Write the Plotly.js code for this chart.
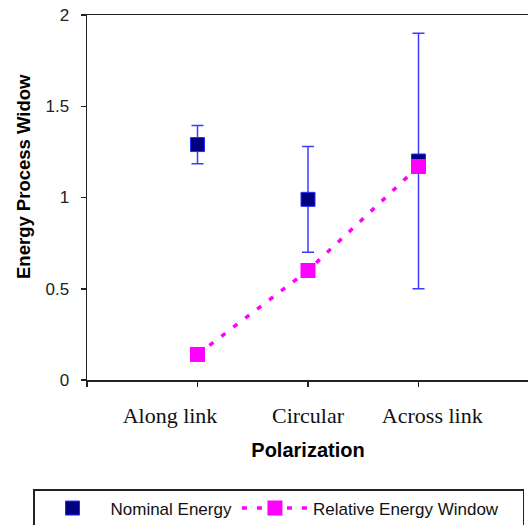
<!DOCTYPE html>
<html>
<head>
<meta charset="utf-8">
<script src="https://cdn.plot.ly/plotly-3.0.1.min.js"></script>
<style>
html,body{margin:0;padding:0;overflow:hidden;background:#fff;}
#chart{width:545px;height:525px;}
</style>
</head>
<body>
<div id="chart"></div>
<script>
var categories = ['Along link', 'Circular', 'Across link'];
var nominalEnergy = [1.29, 0.99, 1.2];
var nominalError = [0.105, 0.29, 0.7];
var relativeWindow = [0.14, 0.6, 1.17];
var yTicks = [0, 0.5, 1, 1.5, 2];
var xTitle = 'Polarization';
var yTitle = 'Energy Process Widow';

var NB = '\u00a0';
function pad(n){ return new Array(n + 1).join(NB); }
// label offsets (Excel spread the category labels slightly)
var labelPadRight = [10, 0, 0];
var labelPadLeft = [0, 0, 5];

var xIdx = categories.map(function(c, i){ return i; });
var tickVals = [-1].concat(xIdx).concat([categories.length]);
var tickText = [''].concat(categories.map(function(c, i){
  return pad(labelPadLeft[i]) + c + pad(labelPadRight[i]);
})).concat(['']);

var nominal = {
  x: xIdx, y: nominalEnergy, name: 'Nominal Energy', type: 'scatter', mode: 'markers',
  marker: {symbol: 'square', size: 14, color: '#000080', line: {color: '#2a2aff', width: 1}},
  error_y: {type: 'data', array: nominalError, visible: true, color: '#3c3cff', thickness: 1.5, width: 6}
};
var relative = {
  x: xIdx, y: relativeWindow, name: 'Relative Energy Window' + pad(4), type: 'scatter', mode: 'lines+markers',
  line: {color: '#ff00ff', width: 3.5, dash: '5px,10px'},
  marker: {symbol: 'square', size: 15, color: '#ff00ff', line: {width: 0}}
};

var layout = {
  width: 545, height: 525,
  margin: {l: 87, r: 16, t: 15, b: 145, autoexpand: false},
  paper_bgcolor: '#fff', plot_bgcolor: '#fff',
  font: {family: 'Liberation Sans, Arial, sans-serif', color: '#111'},
  showlegend: true,
  xaxis: {
    automargin: false,
    range: [-1, categories.length], tickmode: 'array', tickvals: tickVals, ticktext: tickText,
    tickangle: 0,
    showgrid: false, zeroline: false, showline: true, linecolor: '#222', linewidth: 1.5, mirror: true,
    ticks: 'outside', ticklen: 5, tickwidth: 1.5, tickcolor: '#222',
    tickfont: {family: 'Liberation Serif, Times New Roman, serif', size: 22, color: '#111'},
    ticklabelstandoff: 10,
    title: {text: xTitle, font: {family: 'Liberation Sans, Arial, sans-serif', size: 20, color: '#000', weight: 'bold'}, standoff: 16}
  },
  yaxis: {
    automargin: false,
    range: [0, 2], tickmode: 'array', tickvals: yTicks, ticktext: yTicks.map(String),
    showgrid: false, zeroline: false, showline: true, linecolor: '#222', linewidth: 1.5,
    ticks: 'outside', ticklen: 5, tickwidth: 1.5, tickcolor: '#222',
    tickfont: {family: 'Liberation Sans, Arial, sans-serif', size: 17, color: '#222'},
    ticklabelstandoff: 8
  },
  annotations: [{
    text: yTitle, xref: 'paper', yref: 'paper', x: (24 - 87) / 442, y: (380 - 177) / 365,
    xanchor: 'center', yanchor: 'middle', textangle: -90, showarrow: false,
    font: {family: 'Liberation Sans, Arial, sans-serif', size: 18.5, color: '#000', weight: 'bold'}
  }],
  legend: {
    orientation: 'h',
    x: (33 - 87) / 442, xanchor: 'left', y: (380 - 489) / 365, yanchor: 'top',
    bordercolor: '#222', borderwidth: 1.5, bgcolor: '#fff',
    font: {family: 'Liberation Sans, Arial, sans-serif', size: 17, color: '#111'},
    itemwidth: 66, traceorder: 'normal'
  }
};

Plotly.newPlot('chart', [nominal, relative], layout, {displayModeBar: false, staticPlot: true});
</script>
</body>
</html>
